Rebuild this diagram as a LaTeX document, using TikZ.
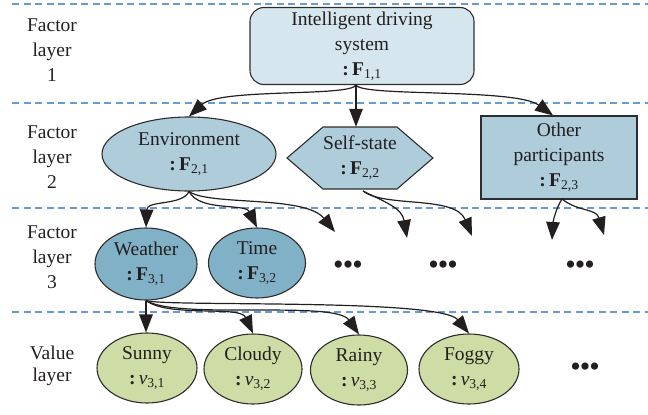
\documentclass[tikz,border=0pt]{standalone}
\usepackage{fontspec}
\setmainfont{Liberation Serif}
\usetikzlibrary{shapes.geometric,arrows.meta,calc}

\definecolor{topfill}{RGB}{214,230,238}
\definecolor{midfill}{RGB}{174,204,218}
\definecolor{lowfill}{RGB}{129,177,198}
\definecolor{valfill}{RGB}{206,221,165}
\definecolor{guide}{RGB}{104,156,208}
\definecolor{ink}{RGB}{35,31,32}
\definecolor{edge}{RGB}{45,45,45}

\newcommand{\fac}[1]{\textbf{:\,F}\textsubscript{#1}}
\newcommand{\val}[1]{\textbf{:}\,\textit{v}\textsubscript{#1}}
\newcommand{\more}{\textbullet\kern-1pt\textbullet\kern-1pt\textbullet}

\begin{document}
\begin{tikzpicture}[x=1pt,y=-1pt,
  every node/.style={font=\fontsize{19.5}{25}\selectfont, text=ink, align=center},
  box/.style={draw=edge, line width=1.1pt, inner sep=0pt},
  oval/.style={box, ellipse, minimum width=#1},
  conn/.style={draw=ink, line width=1.2pt, -{Triangle[length=18pt,width=13.5pt]}},
  sep/.style={draw=guide, line width=1.2pt, dash pattern=on 7pt off 4.5pt},
  tag/.style={inner sep=0pt},
  dots/.style={font=\fontsize{30}{30}\selectfont, inner sep=0pt}
]
\useasboundingbox (0,0) rectangle (648,415);

% layer separators
\foreach \yy in {4,103,208,312}
  \draw[sep] (12,\yy) -- (648,\yy);

% layer captions
\node[tag] (tag1) at (52,50) {Factor\\layer\\1};
\node[tag] (tag2) at (52,157) {Factor\\layer\\2};
\node[tag] (tag3) at (52,257) {Factor\\layer\\3};
\node[tag, font=\fontsize{19.5}{22}\selectfont] (tag4) at (52,366) {Value\\layer};

% factor layer 1
\node[box, fill=topfill, rounded corners=14pt, minimum width=224pt, minimum height=77pt]
  (top) at (362,46) {Intelligent driving\\system\\\fac{1,1}};

% factor layer 2
\node[oval=174pt, minimum height=74pt, fill=midfill] (env) at (189,154)
  {Environment\\\fac{2,1}};
\draw[draw=edge, line width=1.1pt, fill=midfill]
  (287,158) -- (323,127) -- (397,127) -- (433,158) -- (397,189) -- (323,189) -- cycle;
\node[inner sep=0pt, minimum width=146pt, minimum height=62pt] (self) at (360,158)
  {Self-state\\\fac{2,2}};
\node[box, fill=midfill, minimum width=156pt, minimum height=83pt] (other) at (559,157.5)
  {Other\\participants\\\fac{2,3}};

% factor layer 3
\node[oval=102pt, minimum height=72pt, fill=lowfill] (weather) at (146,264)
  {Weather\\\fac{3,1}};
\node[oval=97pt, minimum height=70pt, fill=lowfill] (time) at (257,263)
  {Time\\\fac{3,2}};
\node[dots] (d1) at (348,268) {\more};
\node[dots] (d2) at (443,268) {\more};
\node[dots] (d3) at (580,268) {\more};

% value layer
\node[oval=100pt, minimum height=70pt, fill=valfill] (sunny) at (147,368) {Sunny\\\val{3,1}};
\node[oval=98pt, minimum height=70pt, fill=valfill] (cloudy) at (253,369) {Cloudy\\\val{3,2}};
\node[oval=97pt, minimum height=70pt, fill=valfill] (rainy) at (359,370) {Rainy\\\val{3,3}};
\node[oval=100pt, minimum height=70pt, fill=valfill] (foggy) at (469,369) {Foggy\\\val{3,4}};
\node[dots] (d4) at (585,370) {\more};

% loose ends of the open branches
\coordinate (e3) at (335,232);
\coordinate (s1) at (407,238);
\coordinate (s2) at (472,236);
\coordinate (o1) at (552,240);
\coordinate (o2) at (604,235);

% layer 1 -> layer 2
\coordinate (topout) at ([xshift=-6pt]top.south);
\draw[conn] (topout) .. controls (350,97) and (220,88) .. (env.north);
\draw[conn] (topout) -- (self.north -| topout);
\draw[conn] (topout) .. controls (362,97) and (515,88) .. (other.98);

% layer 2 -> layer 3
\draw[conn] (env.south) .. controls (182,206) and (147,200) .. (weather.north);
\draw[conn] (env.south) .. controls (200,212) and (245,203) .. (time.north);
\draw[conn] (env.south) .. controls (210,206) and (305,195) .. (e3);
\coordinate (selfout) at (363,191);
\draw[conn] (selfout) .. controls (385,202) and (402,208) .. (s1);
\draw[conn] (selfout) .. controls (385,208) and (455,195) .. (s2);
\coordinate (otherout) at (562,199);
\draw[conn] (otherout) .. controls (556,208) and (553,222) .. (o1);
\draw[conn] (otherout) .. controls (578,212) and (596,208) .. (o2);

% layer 3 -> value layer
\draw[conn] (weather.south) -- (sunny.north -| weather.south);
\draw[conn] (weather.south) .. controls (170,318) and (240,305) .. (cloudy.north);
\draw[conn] (weather.south) .. controls (178,320) and (335,300) .. (rainy.north);
\draw[conn] (weather.south) .. controls (165,307) and (440,298) .. (foggy.north);
\end{tikzpicture}
\end{document}
